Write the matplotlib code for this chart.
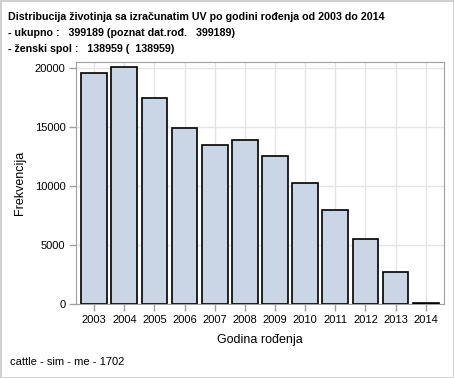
import numpy as np
import matplotlib.pyplot as plt

years = ['2003', '2004', '2005', '2006', '2007', '2008', '2009', '2010', '2011', '2012', '2013', '2014']
counts = [19600, 20150, 17450, 14950, 13500, 13900, 12550, 10300, 8000, 5550, 2750, 150]
yticks = [0, 5000, 10000, 15000, 20000]
title_lines = ['Distribucija životinja sa izračunatim UV po godini rođenja od 2003 do 2014',
               '- ukupno :   399189 (poznat dat.rođ.   399189)',
               '- ženski spol :   138959 (  138959)']

plt.rcParams['font.family'] = ['Liberation Sans', 'DejaVu Sans']

fig = plt.figure(figsize=(4.54, 3.78), dpi=100)
fig.patch.set_edgecolor('#d0d0d0')
fig.patch.set_linewidth(2)

ax = fig.add_axes([76/454, 1 - 304.3/378, 368/454, 242.6/378])
x = np.arange(len(years))
ax.bar(x, counts, width=0.853, color='#cad5e5', edgecolor='black', linewidth=1.2, zorder=3)

ax.set_xlim(-0.604, 11.607)
ax.set_ylim(0, 20560)
ax.set_xticks(x)
ax.set_xticklabels(years)
ax.set_yticks(yticks)
ax.set_yticklabels([str(v) for v in yticks])
ax.grid(True, color='#e4e4e4', linewidth=1, zorder=0)
ax.set_axisbelow(True)

for s in ax.spines.values():
    s.set_color('#a0a0a0')
ax.tick_params(colors='#a0a0a0', labelcolor='black', labelsize=8, length=5, width=1, pad=2.5)

ax.set_xlabel('Godina rođenja', fontsize=9, labelpad=7)
ax.set_ylabel('Frekvencija', fontsize=9, labelpad=6)

for i, line in enumerate(title_lines):
    fig.text(8/454, 1 - (17 + 16*i)/378, line, fontsize=7.7, fontweight='bold', ha='left', va='center')

fig.text(10/454, 1 - 362/378, 'cattle - sim - me - 1702', fontsize=8, ha='left', va='center')

fig.savefig('out.png', dpi=100)
